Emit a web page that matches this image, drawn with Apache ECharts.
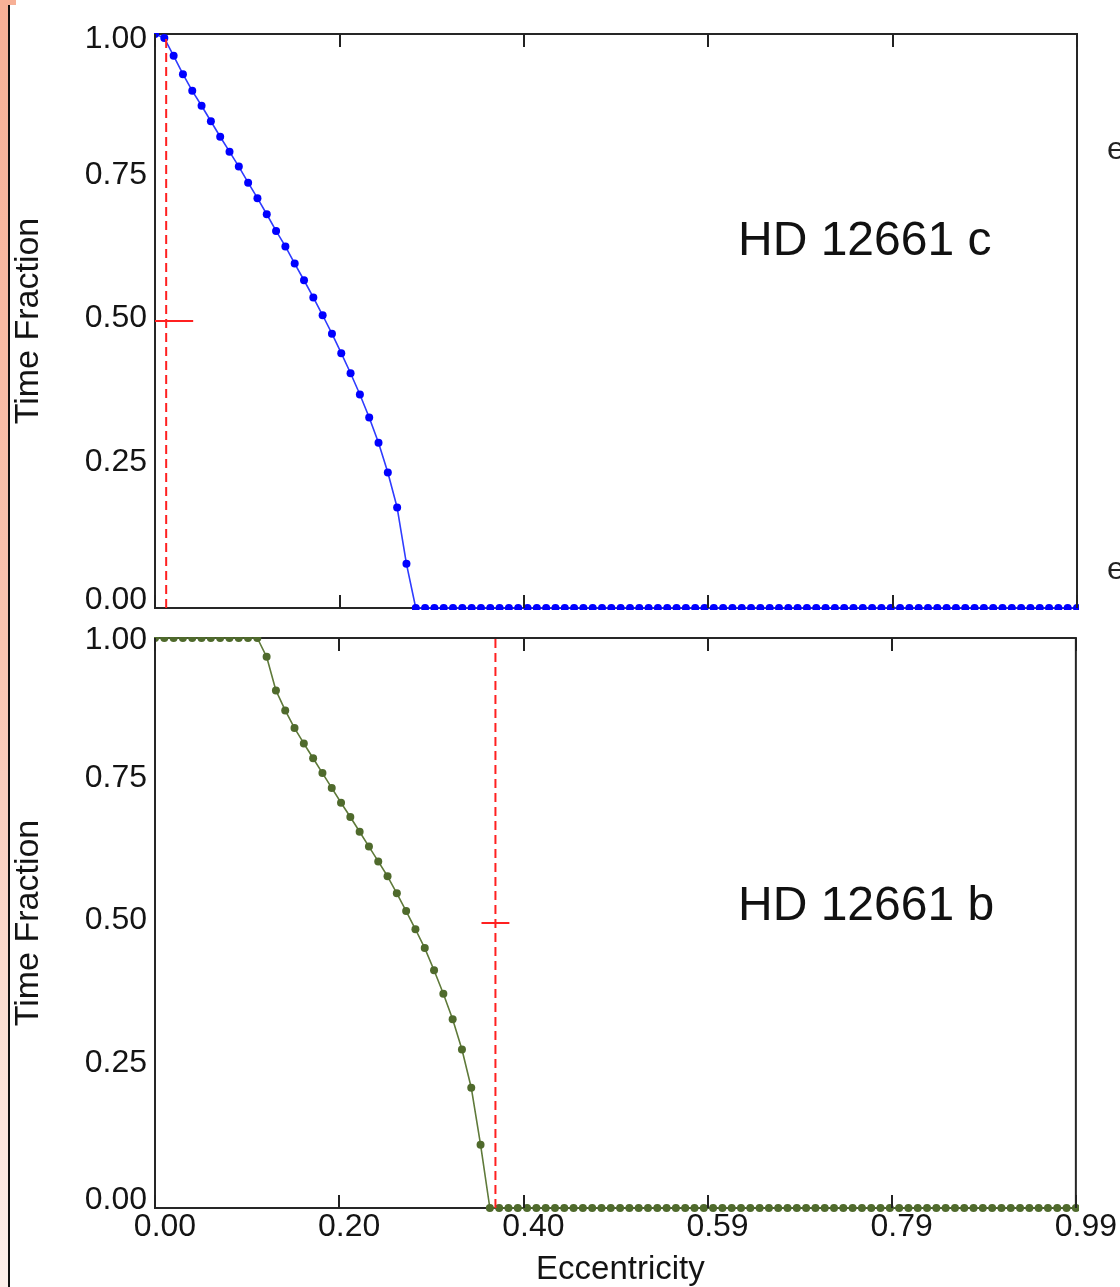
<!DOCTYPE html>
<html>
<head>
<meta charset="utf-8">
<script src="https://cdn.jsdelivr.net/npm/echarts@6/dist/echarts.min.js"></script>
<style>
  html, body { margin: 0; padding: 0; background: #fff; }
  #chart { width: 1120px; height: 1287px; }
</style>
</head>
<body>
<div id="chart"></div>
<script>
// eccentricity grid of the scan
const eccentricity = [
  0.00, 0.01, 0.02, 0.03, 0.04, 0.05, 0.06, 0.07, 0.08, 0.09,
  0.10, 0.11, 0.12, 0.13, 0.14, 0.15, 0.16, 0.17, 0.18, 0.19,
  0.20, 0.21, 0.22, 0.23, 0.24, 0.25, 0.26, 0.27, 0.28, 0.29,
  0.30, 0.31, 0.32, 0.33, 0.34, 0.35, 0.36, 0.37, 0.38, 0.39,
  0.40, 0.41, 0.42, 0.43, 0.44, 0.45, 0.46, 0.47, 0.48, 0.49,
  0.50, 0.51, 0.52, 0.53, 0.54, 0.55, 0.56, 0.57, 0.58, 0.59,
  0.60, 0.61, 0.62, 0.63, 0.64, 0.65, 0.66, 0.67, 0.68, 0.69,
  0.70, 0.71, 0.72, 0.73, 0.74, 0.75, 0.76, 0.77, 0.78, 0.79,
  0.80, 0.81, 0.82, 0.83, 0.84, 0.85, 0.86, 0.87, 0.88, 0.89,
  0.90, 0.91, 0.92, 0.93, 0.94, 0.95, 0.96, 0.97, 0.98, 0.99
]

// HD 12661 c (top panel)
const fractionC = [
  1.000, 0.993, 0.962, 0.930, 0.901, 0.875, 0.848, 0.821, 0.795, 0.769,
  0.741, 0.714, 0.686, 0.657, 0.630, 0.600, 0.571, 0.541, 0.510, 0.478,
  0.444, 0.409, 0.372, 0.332, 0.288, 0.236, 0.175, 0.077, 0, 0,
  0, 0, 0, 0, 0, 0, 0, 0, 0, 0,
  0, 0, 0, 0, 0, 0, 0, 0, 0, 0,
  0, 0, 0, 0, 0, 0, 0, 0, 0, 0,
  0, 0, 0, 0, 0, 0, 0, 0, 0, 0,
  0, 0, 0, 0, 0, 0, 0, 0, 0, 0,
  0, 0, 0, 0, 0, 0, 0, 0, 0, 0,
  0, 0, 0, 0, 0, 0, 0, 0, 0, 0
]

// HD 12661 b (bottom panel)
const fractionB = [
  1, 1, 1, 1, 1, 1, 1, 1, 1, 1,
  1, 1, 0.967, 0.908, 0.873, 0.842, 0.815, 0.789, 0.763, 0.737,
  0.711, 0.686, 0.660, 0.634, 0.608, 0.582, 0.552, 0.521, 0.489, 0.456,
  0.417, 0.376, 0.331, 0.278, 0.211, 0.111, 0, 0, 0, 0,
  0, 0, 0, 0, 0, 0, 0, 0, 0, 0,
  0, 0, 0, 0, 0, 0, 0, 0, 0, 0,
  0, 0, 0, 0, 0, 0, 0, 0, 0, 0,
  0, 0, 0, 0, 0, 0, 0, 0, 0, 0,
  0, 0, 0, 0, 0, 0, 0, 0, 0, 0,
  0, 0, 0, 0, 0, 0, 0, 0, 0, 0
]

// observed eccentricity (red dashed line) and its error (red cross)
const planetNames = ['HD 12661 c', 'HD 12661 b']
const observedEcc = [0.012, 0.366]
const observedErr = [0.029, 0.015]
const crossFraction = 0.5

const xTicks = [0, 0.198, 0.396, 0.594, 0.792, 0.99]
const yTicks = [0, 0.25, 0.5, 0.75, 1]

const FONT = "'Liberation Sans', Arial, sans-serif"
const INK = '#141414'

const chart = echarts.init(document.getElementById('chart'))

const gridBox = { left: 155, width: 922, show: true, borderColor: '#262626', borderWidth: 2, backgroundColor: '#fff' }

const xBase = (gridIndex, position, labels) => ({
  gridIndex,
  type: 'value',
  position,
  z: 10,
  min: xTicks[0],
  max: xTicks[xTicks.length - 1],
  interval: xTicks[1] - xTicks[0],
  axisLine: { show: false },
  axisTick: { show: true, inside: true, length: 13, lineStyle: { color: '#222', width: 2 } },
  splitLine: { show: false },
  axisLabel: labels ? {
    show: true,
    formatter: v => v.toFixed(2),
    color: INK,
    fontFamily: FONT,
    fontSize: 32,
    margin: 3,
    padding: [0, 0, 0, 20]
  } : { show: false }
})

// end labels sit a little inward, like the original
const yLabelStyle = pad => ({ fontFamily: FONT, fontSize: 32, color: INK, padding: pad })
const yBase = gridIndex => ({
  gridIndex,
  type: 'value',
  z: 10,
  min: yTicks[0],
  max: yTicks[yTicks.length - 1],
  interval: yTicks[1] - yTicks[0],
  name: 'Time Fraction',
  nameLocation: 'middle',
  nameGap: 109,
  nameTextStyle: { fontFamily: FONT, fontSize: 34, color: INK },
  axisLine: { show: false },
  axisTick: { show: false },
  splitLine: { show: false },
  axisLabel: {
    margin: 8,
    formatter: v => {
      const t = v.toFixed(2)
      if (v === yTicks[0]) return '{lo|' + t + '}'
      if (v === yTicks[yTicks.length - 1]) return '{hi|' + t + '}'
      return '{mid|' + t + '}'
    },
    rich: {
      lo: yLabelStyle([0, 0, 16, 0]),
      hi: yLabelStyle([gridIndex === 0 ? 10 : 4, 0, 0, 0]),
      mid: yLabelStyle([0, 0, 5, 0])
    }
  }
})

const xBottom = xBase(1, 'bottom', true)
xBottom.name = 'Eccentricity'
xBottom.nameLocation = 'middle'
xBottom.nameGap = 45
xBottom.nameTextStyle = { fontFamily: FONT, fontSize: 33, color: INK, padding: [0, 0, 0, 10] }

const curve = (values, idx, color, lineColor) => ({
  type: 'line',
  xAxisIndex: idx * 2,
  yAxisIndex: idx,
  data: eccentricity.map((e, i) => [e, values[i]]),
  symbol: 'circle',
  symbolSize: 8,
  itemStyle: { color },
  lineStyle: { color: lineColor, width: 1.6 },
  z: 3
})

const redSeries = idx => {
  const e = observedEcc[idx]
  const err = observedErr[idx]
  return [
    {
      type: 'line',
      xAxisIndex: idx * 2,
      yAxisIndex: idx,
      data: [[e, yTicks[0]], [e, yTicks[yTicks.length - 1]]],
      symbol: 'none',
      lineStyle: { color: '#ff2020', width: 2, type: [9, 5] },
      z: 4
    },
    {
      type: 'line',
      xAxisIndex: idx * 2,
      yAxisIndex: idx,
      data: [[Math.max(0, e - err), crossFraction], [e + err, crossFraction]],
      symbol: 'none',
      lineStyle: { color: '#ff2020', width: 2 },
      z: 4
    }
  ]
}

// white bands that hide the halves of markers falling outside the frames
const mask = (x, y, width, height) => ({
  type: 'rect', z: 6, silent: true,
  shape: { x, y, width, height },
  style: { fill: '#fff' }
})

chart.setOption({
  backgroundColor: '#fff',
  animation: false,
  grid: [
    Object.assign({ top: 34, height: 574 }, gridBox),
    Object.assign({ top: 638, height: 575 }, gridBox)
  ],
  xAxis: [
    xBase(0, 'bottom', false),
    xBase(0, 'top', false),
    xBottom,
    xBase(1, 'top', false)
  ],
  yAxis: [yBase(0), yBase(1)],
  graphic: [
    mask(11, 0, 1109, 33),
    mask(11, 610, 1109, 27),
    mask(11, 1215, 1109, 72),
    mask(11, 0, 143, 1287),
    mask(1079, 0, 41, 1287),
    {
      type: 'rect', z: 12, silent: true,
      shape: { x: 0, y: 0, width: 8, height: 1287 },
      style: {
        fill: new echarts.graphic.LinearGradient(0, 0, 0, 1, [
          { offset: 0, color: '#f7b096' },
          { offset: 0.5, color: '#f9c4b0' },
          { offset: 1, color: '#fdf0eb' }
        ])
      }
    },
    { type: 'rect', z: 12, silent: true, shape: { x: 0, y: 0, width: 16, height: 5 }, style: { fill: '#f7b096' } },
    { type: 'line', z: 12, silent: true, shape: { x1: 9, y1: 5, x2: 9, y2: 1287 }, style: { stroke: '#111', lineWidth: 2 } },
    { type: 'text', z: 12, left: 738, top: 218, style: { text: planetNames[0], font: '48px ' + FONT, fill: '#111' } },
    { type: 'text', z: 12, left: 738, top: 883, style: { text: planetNames[1], font: '48px ' + FONT, fill: '#111' } },
    { type: 'text', z: 12, left: 1107, top: 134, style: { text: 'e', font: '32px ' + FONT, fill: '#222' } },
    { type: 'text', z: 12, left: 1107, top: 554, style: { text: 'e', font: '32px ' + FONT, fill: '#222' } }
  ],
  series: [
    curve(fractionC, 0, '#0000ff', '#2f3cff'),
    curve(fractionB, 1, '#4f6a2c', '#5f7a3a'),
    ...redSeries(0),
    ...redSeries(1)
  ]
})

window.addEventListener('resize', () => chart.resize())
</script>
</body>
</html>
